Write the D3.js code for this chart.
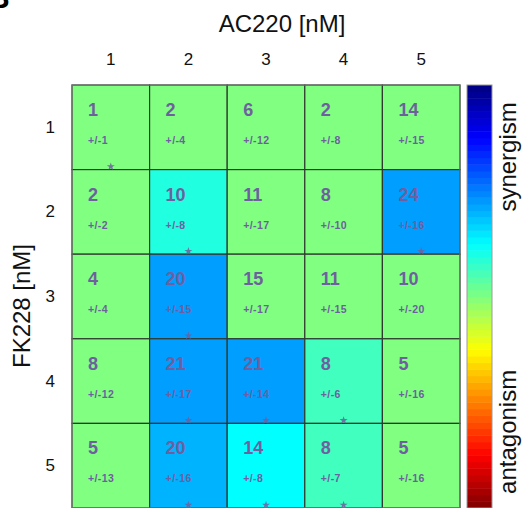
<!DOCTYPE html>
<html>
<head>
<meta charset="utf-8">
<script src="https://cdn.jsdelivr.net/npm/d3@7"></script>
<style>
  html, body { margin: 0; padding: 0; background: #fff; }
  svg { display: block; font-family: "Liberation Sans", Arial, sans-serif; }
</style>
</head>
<body>
<svg id="chart" width="523" height="508"></svg>
<script>
// ---- data ----
const colLabels = ["1", "2", "3", "4", "5"];   // AC220 [nM]
const rowLabels = ["1", "2", "3", "4", "5"];   // FK228 [nM]
const meanValues = [
  [1, 2, 6, 2, 14],
  [2, 10, 11, 8, 24],
  [4, 20, 15, 11, 10],
  [8, 21, 21, 8, 5],
  [5, 20, 14, 8, 5]
];
const sdValues = [
  [1, 4, 12, 8, 15],
  [2, 8, 17, 10, 16],
  [4, 15, 17, 15, 20],
  [12, 17, 14, 6, 16],
  [13, 16, 8, 7, 16]
];
const significant = [
  [1, 0, 0, 0, 0],
  [0, 1, 0, 0, 1],
  [0, 1, 0, 0, 0],
  [0, 1, 1, 1, 0],
  [0, 1, 1, 1, 0]
];
// position on the colour bar: 0 = antagonism (bottom), 1 = synergism (top)
const colorLevel = [
  [0.5, 0.5, 0.5, 0.5, 0.5],
  [0.5, 0.594, 0.5, 0.5, 0.72],
  [0.5, 0.72, 0.5, 0.5, 0.5],
  [0.5, 0.72, 0.72, 0.5625, 0.5],
  [0.5, 0.70, 0.625, 0.5625, 0.5]
];
const colorbarSteps = 64;

// ---- helpers ----
function jet(t) {
  const c = v => Math.round(255 * Math.max(0, Math.min(1, v)));
  return `rgb(${c(1.5 - Math.abs(4 * t - 3))},${c(1.5 - Math.abs(4 * t - 2))},${c(1.5 - Math.abs(4 * t - 1))})`;
}
const colorOf = v => jet(1 - v);

const svg = d3.select("#chart");
const textColor = "#6e5f9f";

const x = d3.scaleBand().domain(colLabels).range([72, 460]).paddingInner(0);
const y = d3.scaleBand().domain(rowLabels).range([85, 508]).paddingInner(0);

const cells = [];
rowLabels.forEach((r, i) => colLabels.forEach((c, j) => cells.push({
  r, c, mean: meanValues[i][j], sd: sdValues[i][j], sig: significant[i][j], lvl: colorLevel[i][j]
})));

// partial panel letter
svg.append("text").attr("x", -12).attr("y", 8).attr("font-size", 30).attr("font-weight", "bold")
  .attr("fill", "#000").text("B");

// cells
const g = svg.append("g");
g.selectAll("rect.cell").data(cells).join("rect")
  .attr("class", "cell")
  .attr("x", d => x(d.c)).attr("y", d => y(d.r))
  .attr("width", x.bandwidth()).attr("height", y.bandwidth())
  .attr("fill", d => colorOf(d.lvl))
  .attr("stroke", "#2e3a2e").attr("stroke-width", 1.2);

g.selectAll("text.mean").data(cells).join("text")
  .attr("class", "mean")
  .attr("x", d => x(d.c) + 16).attr("y", d => y(d.r) + 31)
  .attr("font-size", 18).attr("font-weight", "bold").attr("fill", textColor)
  .text(d => d.mean);

g.selectAll("text.sd").data(cells).join("text")
  .attr("class", "sd")
  .attr("x", d => x(d.c) + 16).attr("y", d => y(d.r) + 59)
  .attr("font-size", 10.5).attr("font-weight", "bold").attr("fill", textColor)
  .attr("letter-spacing", 0.4)
  .text(d => "+/-" + d.sd);

const star = d3.symbol().type(d3.symbolStar).size(20);
g.selectAll("path.star").data(cells.filter(d => d.sig)).join("path")
  .attr("class", "star")
  .attr("transform", d => `translate(${x(d.c) + x.bandwidth() / 2},${y(d.r) + y.bandwidth() - 3})`)
  .attr("d", star)
  .attr("fill", textColor).attr("opacity", 0.85);

// outer border
svg.append("rect").attr("x", 72).attr("y", 85).attr("width", 388).attr("height", 423)
  .attr("fill", "none").attr("stroke", "#7a7a7a").attr("stroke-width", 1);

// axes
const xAxis = d3.axisTop(x).tickSize(0).tickPadding(0);
const xg = svg.append("g").attr("transform", "translate(0,65)").call(xAxis);
xg.select(".domain").remove();
xg.selectAll("text").attr("font-size", 17).attr("fill", "#111")
  .attr("font-family", "Liberation Sans, Arial, sans-serif").attr("dy", 0);

const yAxis = d3.axisLeft(y).tickSize(0).tickPadding(0);
const yg = svg.append("g").attr("transform", "translate(55,0)").call(yAxis);
yg.select(".domain").remove();
yg.selectAll("text").attr("font-size", 17).attr("fill", "#111")
  .attr("font-family", "Liberation Sans, Arial, sans-serif");

svg.append("text").attr("x", 282).attr("y", 32).attr("text-anchor", "middle")
  .attr("font-size", 24).attr("fill", "#111").text("AC220 [nM]");
svg.append("text").attr("transform", "translate(30,306) rotate(-90)").attr("text-anchor", "middle")
  .attr("font-size", 24).attr("fill", "#111").text("FK228 [nM]");

// colour bar
const cb = d3.scaleLinear().domain([0, 1]).range([508, 85]);
const steps = d3.range(colorbarSteps);
svg.append("g").selectAll("rect").data(steps).join("rect")
  .attr("x", 467).attr("width", 25)
  .attr("y", i => cb((i + 1) / colorbarSteps))
  .attr("height", i => cb(i / colorbarSteps) - cb((i + 1) / colorbarSteps) + 0.5)
  .attr("fill", i => colorOf((i + 0.5) / colorbarSteps));
svg.append("rect").attr("x", 467).attr("y", 85).attr("width", 25).attr("height", 423)
  .attr("fill", "none").attr("stroke", "#9a9a9a").attr("stroke-width", 1);

svg.append("text").attr("transform", `translate(516,${cb(0.83)}) rotate(-90)`).attr("text-anchor", "middle")
  .attr("font-size", 24).attr("fill", "#111").text("synergism");
svg.append("text").attr("transform", `translate(516,${cb(0.18)}) rotate(-90)`).attr("text-anchor", "middle")
  .attr("font-size", 24).attr("fill", "#111").text("antagonism");
</script>
</body>
</html>
